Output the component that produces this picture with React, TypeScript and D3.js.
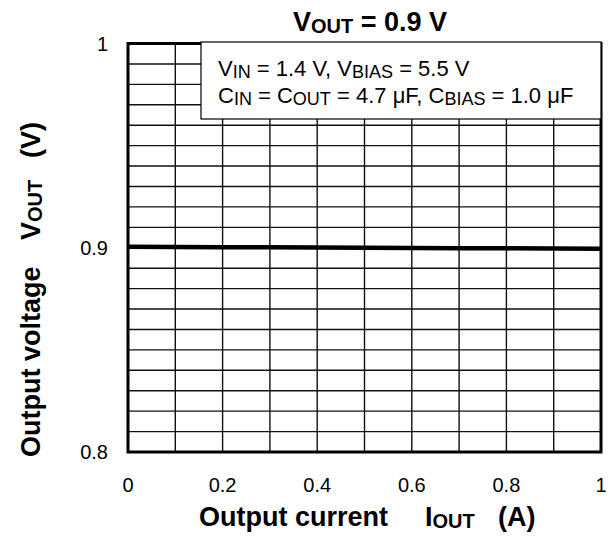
import * as d3 from "d3";

// Output current (A) and measured output voltage (V)
const currentA = [0, 0.1, 0.2, 0.3, 0.4, 0.5, 0.6, 0.7, 0.8, 0.9, 1.0];
const voutV = [0.9005, 0.9004, 0.9003, 0.9002, 0.9001, 0.9, 0.8999, 0.8998, 0.8997, 0.8996, 0.8995];

const xTicks = [0, 0.2, 0.4, 0.6, 0.8, 1];
const xTickLabels = ["0", "0.2", "0.4", "0.6", "0.8", "1"];
const yTicks = [0.8, 0.9, 1];
const yTickLabels = ["0.8", "0.9", "1"];
const xGrid = d3.range(0, 11).map((i) => i / 10);
const yGrid = d3.range(0, 21).map((i) => 0.8 + i / 100);

const W = 613;
const H = 540;
const margin = { top: 43.5, right: 12, bottom: 88, left: 128 };
const font = "'Liberation Sans', Arial, sans-serif";

export default function App() {
  const innerW = W - margin.left - margin.right;
  const innerH = H - margin.top - margin.bottom;

  const x = d3.scaleLinear().domain([0, 1]).range([0, innerW]);
  const y = d3.scaleLinear().domain([0.8, 1]).range([innerH, 0]);

  const line = d3
    .line<number>()
    .x((_, i) => x(currentA[i]))
    .y((d) => y(d));

  return (
    <svg
      width={W}
      height={H}
      style={{ position: "absolute", left: 0, top: 0, background: "#fff" }}
      fontFamily={font}
    >
      {/* title */}
      <text x={370} y={31} textAnchor="middle" fontSize={27} fontWeight="bold">
        V<tspan fontSize={20} dy={1.5}>OUT</tspan>
        <tspan dy={-1.5}> = 0.9 V</tspan>
      </text>

      <g transform={`translate(${margin.left},${margin.top})`}>
        {/* grid */}
        {yGrid.map((v, i) => (
          <line key={"h" + i} x1={0} x2={innerW} y1={y(v)} y2={y(v)} stroke="#111" strokeWidth={1.4} />
        ))}
        {xGrid.map((v, i) => (
          <line key={"v" + i} x1={x(v)} x2={x(v)} y1={0} y2={innerH} stroke="#111" strokeWidth={1.4} />
        ))}

        {/* data */}
        <path d={line(voutV) ?? ""} fill="none" stroke="#000" strokeWidth={4.5} />

        {/* frame */}
        <rect x={0} y={0} width={innerW} height={innerH} fill="none" stroke="#000" strokeWidth={3} />

        {/* legend box */}
        <rect x={73} y={-1.5} width={innerW - 73} height={77} fill="#fff" stroke="#000" strokeWidth={1.2} />
        <text x={90} y={32} fontSize={22}>
          V<tspan fontSize={18} dy={2}>IN</tspan>
          <tspan dy={-2}> = 1.4 V, V</tspan>
          <tspan fontSize={18} dy={2}>BIAS</tspan>
          <tspan dy={-2}> = 5.5 V</tspan>
        </text>
        <text x={90} y={59} fontSize={22}>
          C<tspan fontSize={18} dy={2}>IN</tspan>
          <tspan dy={-2}> = C</tspan>
          <tspan fontSize={18} dy={2}>OUT</tspan>
          <tspan dy={-2}> = 4.7 μF, C</tspan>
          <tspan fontSize={18} dy={2}>BIAS</tspan>
          <tspan dy={-2}> = 1.0 μF</tspan>
        </text>

        {/* x ticks */}
        {xTicks.map((v, i) => (
          <text key={"xt" + i} x={x(v)} y={innerH + 40} textAnchor="middle" fontSize={20}>
            {xTickLabels[i]}
          </text>
        ))}
        {/* y ticks */}
        {yTicks.map((v, i) => (
          <text key={"yt" + i} x={-20} y={y(v)} dy="0.35em" textAnchor="end" fontSize={20}>
            {yTickLabels[i]}
          </text>
        ))}
      </g>

      {/* x axis title */}
      <text y={526} fontSize={27} fontWeight="bold">
        <tspan x={199}>Output current</tspan>
        <tspan x={425}>I</tspan>
        <tspan fontSize={20} dy={1.5}>OUT</tspan>
        <tspan x={498} dy={-1.5}>(A)</tspan>
      </text>

      {/* y axis title */}
      <g transform="rotate(-90)">
        <text y={40} fontSize={27} fontWeight="bold">
          <tspan x={-457}>Output voltage</tspan>
          <tspan x={-240}>V</tspan>
          <tspan fontSize={20} dy={1.5}>OUT</tspan>
          <tspan x={-158} dy={-1.5}>(V)</tspan>
        </text>
      </g>
    </svg>
  );
}
